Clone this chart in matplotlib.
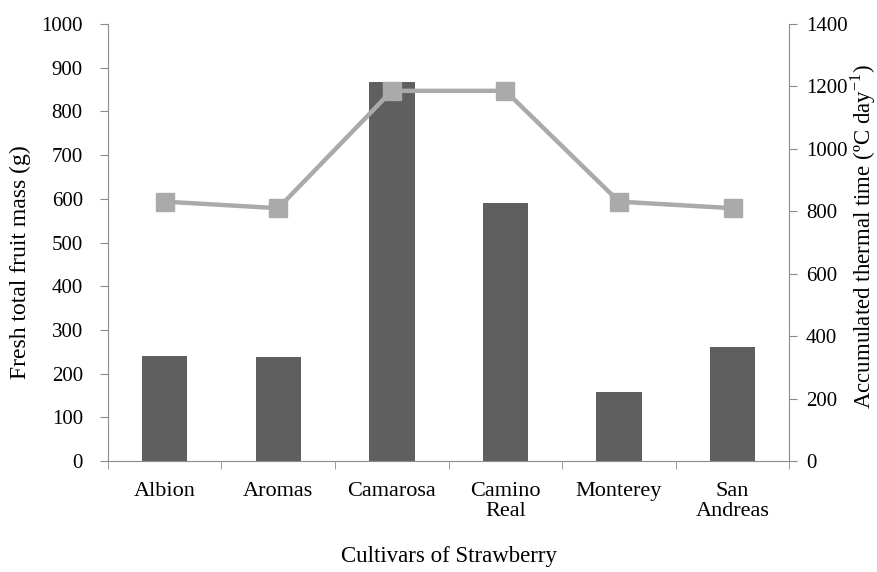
import numpy as np
import matplotlib
matplotlib.use("Agg")
import matplotlib.pyplot as plt

plt.rcParams['font.family'] = ['Liberation Serif', 'DejaVu Serif']
plt.rcParams['mathtext.fontset'] = 'custom'
plt.rcParams['mathtext.rm'] = 'Liberation Serif'

cultivars = ['Albion', 'Aromas', 'Camarosa', 'Camino\nReal', 'Monterey', 'San\nAndreas']
fruit_mass = [241, 237, 868, 590, 158, 260]
thermal_time = [831, 810, 1186, 1186, 831, 810]

spine_col = '#8c8c8c'
x = np.arange(len(cultivars))

fig = plt.figure(figsize=(8.77, 5.72), dpi=100)
ax = fig.add_axes([0.123, 0.194, 0.777, 0.764])
ax.bar(x, fruit_mass, width=0.4, color='#5f5f5f', zorder=2)
ax.set_xlim(-0.5, len(cultivars) - 0.5)
ax.set_ylim(0, 1000)
ax.set_yticks(np.arange(0, 1001, 100))
ax.set_xticks(x)
ax.set_xticklabels(cultivars, fontsize=16, linespacing=1.05)
ax.set_xticks(np.arange(-0.5, len(cultivars), 1), minor=True)
ax.tick_params(axis='x', which='major', length=0, pad=15)
ax.tick_params(axis='x', which='minor', length=6, color=spine_col, direction='out')
ax.tick_params(axis='y', length=6, color=spine_col, labelsize=15, direction='out', pad=12)
ax.set_ylabel('Fresh total fruit mass (g)', fontsize=17)
ax.yaxis.set_label_coords(-0.128, 0.455)
ax.yaxis.label.set_va('center')
ax.set_xlabel('Cultivars of Strawberry', fontsize=16.5, labelpad=18)
ax.spines['top'].set_visible(False)
ax.spines['right'].set_visible(False)
ax.spines['left'].set_color(spine_col)
ax.spines['bottom'].set_color(spine_col)

ax2 = ax.twinx()
ax2.plot(x, thermal_time, color='#aaaaaa', linewidth=3.2, marker='s',
         markersize=12.5, zorder=3)
ax2.set_ylim(0, 1400)
ax2.set_yticks(np.arange(0, 1401, 200))
ax2.tick_params(axis='y', length=6, color=spine_col, labelsize=15, direction='out', pad=6)
ax2.set_ylabel('Accumulated thermal time (ºC day$^{\\mathregular{-1}}$)', fontsize=16.5)
ax2.yaxis.set_label_coords(1.109, 0.513)
ax2.yaxis.label.set_va('center')
ax2.spines['top'].set_visible(False)
ax2.spines['left'].set_visible(False)
ax2.spines['bottom'].set_visible(False)
ax2.spines['right'].set_color(spine_col)

fig.savefig('out.png', dpi=100)
